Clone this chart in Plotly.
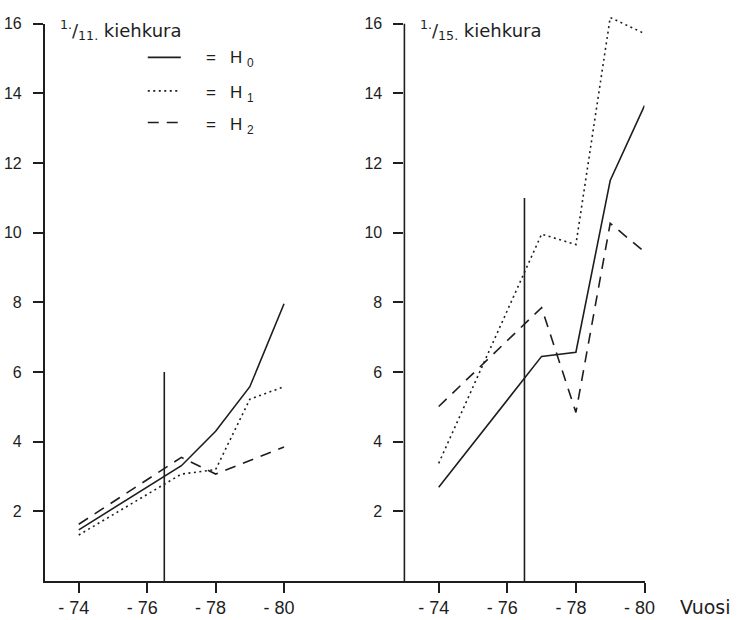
import plotly.graph_objects as go

# ---------------- data ----------------
years = [74, 77, 78, 79, 80]
left_H0 = [1.47, 3.31, 4.30, 5.58, 7.96]
left_H1 = [1.32, 3.07, 3.20, 5.22, 5.58]
left_H2 = [1.63, 3.55, 3.07, 3.45, 3.85]

right_H0 = [2.69, 6.45, 6.57, 11.50, 13.65]
right_H1 = [3.38, 9.96, 9.66, 16.18, 15.72]
right_H2 = [5.01, 7.85, 4.84, 10.27, 9.45]

marker_x = [76.5, 76.5]
left_marker_y = [0, 6]
right_marker_y = [0, 11]

tick_years = [74, 76, 78, 80]
tick_text = ["- 74", "- 76", "- 78", "- 80"]
y_ticks = [2, 4, 6, 8, 10, 12, 14, 16]

series_names = ["H<sub>0</sub>", "H<sub>1</sub>", "H<sub>2</sub>"]
panel_titles = ["<sup>1.</sup>/<sub>11.</sub> kiehkura", "<sup>1.</sup>/<sub>15.</sub> kiehkura"]
x_title = "Vuosi"

# ---------------- styling ----------------
W, H = 753, 620
INK = "#1e1e1e"
LW = 1.6
DASHES = ["solid", "2px,3.5px", "11px,8px"]
FONT = "Liberation Sans, Arial, sans-serif"
TFONT = "DejaVu Sans, sans-serif"


def px(x):
    return x / W


def py(y):
    return 1 - y / H


fig = go.Figure()

for vals, dash, name in zip([left_H0, left_H1, left_H2], DASHES, series_names):
    fig.add_trace(go.Scatter(x=years, y=vals, mode="lines", name=name,
                             line=dict(color=INK, width=LW, dash=dash),
                             xaxis="x", yaxis="y", showlegend=False))
for vals, dash, name in zip([right_H0, right_H1, right_H2], DASHES, series_names):
    fig.add_trace(go.Scatter(x=years, y=vals, mode="lines", name=name,
                             line=dict(color=INK, width=LW, dash=dash),
                             xaxis="x2", yaxis="y2", showlegend=False))

fig.add_trace(go.Scatter(x=marker_x, y=left_marker_y, mode="lines",
                         line=dict(color=INK, width=LW), xaxis="x", yaxis="y",
                         showlegend=False))
fig.add_trace(go.Scatter(x=marker_x, y=right_marker_y, mode="lines",
                         line=dict(color=INK, width=LW), xaxis="x2", yaxis="y2",
                         showlegend=False))

# axis geometry (pixels)
y_top, y_bot = 16, 580.5
x_left0, x_split, x_right1 = 46, 416, 663
ydom = [py(y_bot), py(y_top)]

# digits centred on the tick, minus sign hanging to the left
shown_ticks = [t + "\u00a0\u00a0" for t in tick_text]

common_x = dict(tickmode="array", tickvals=tick_years, ticktext=shown_ticks,
                ticks="outside", ticklen=10, tickwidth=LW, tickcolor=INK,
                showline=True, linecolor=INK, linewidth=LW, showgrid=False,
                zeroline=False, tickfont=dict(family=FONT, size=18, color=INK))
common_y = dict(tickmode="array", tickvals=y_ticks, ticks="outside", ticklen=10,
                tickwidth=LW, tickcolor=INK, showgrid=False, zeroline=False,
                tickfont=dict(family=FONT, size=16, color=INK),
                ticklabelstandoff=8)

fig.update_layout(
    width=W, height=H, autosize=False,
    margin=dict(l=0, r=0, t=0, b=0, pad=0),
    paper_bgcolor="white", plot_bgcolor="white",
    xaxis=dict(**common_x, anchor="y",
               domain=[px(x_left0), px(x_split)],
               range=[74 - (81 - x_left0) / 35.2, 74 + (x_split - 81) / 35.2]),
    yaxis=dict(**common_y, domain=ydom, range=[0, 16], anchor="x",
               showline=True, linecolor=INK, linewidth=LW),
    xaxis2=dict(**common_x, anchor="y2",
                domain=[px(x_split), px(x_right1)], range=[73.0, 80.0]),
    yaxis2=dict(**common_y, domain=[ydom[0], py(y_top - 0.3 * 35.3)],
                range=[0, 16.3], anchor="x2", showline=False),
    showlegend=False,
)

# right y axis line only up to 16
fig.add_shape(type="line", xref="x2 domain", yref="y2", x0=0, x1=0, y0=0, y1=16,
              line=dict(color=INK, width=LW))

# panel titles
fig.add_annotation(x=px(60), y=py(22), xref="paper", yref="paper", text=panel_titles[0],
                   showarrow=False, xanchor="left", yanchor="middle",
                   font=dict(family=TFONT, size=18, color=INK))
fig.add_annotation(x=px(430), y=py(22), xref="paper", yref="paper", text=panel_titles[1],
                   showarrow=False, xanchor="left", yanchor="middle",
                   font=dict(family=TFONT, size=18, color=INK))

# legend (key drawn in the left panel)
key_line_y = [50, 84, 116]
key_text_y = [52, 87, 120]
for dash, ly, ty, name in zip(DASHES, key_line_y, key_text_y, series_names):
    fig.add_shape(type="line", xref="paper", yref="paper",
                  x0=px(152), x1=px(186), y0=py(ly), y1=py(ly),
                  line=dict(color=INK, width=LW, dash=dash))
    fig.add_annotation(x=px(210), y=py(ty), xref="paper", yref="paper",
                       text="=\u00a0\u00a0\u00a0" + name.replace("<sub>", "\u00a0<sub>"),
                       showarrow=False, xanchor="left", yanchor="middle",
                       font=dict(family=FONT, size=17, color=INK))

# x title
fig.add_annotation(x=px(697), y=py(607), xref="paper", yref="paper", text=x_title,
                   showarrow=False, xanchor="left", yanchor="middle",
                   font=dict(family=TFONT, size=19, color=INK))

fig.write_html("out.html", config={"responsive": False})
